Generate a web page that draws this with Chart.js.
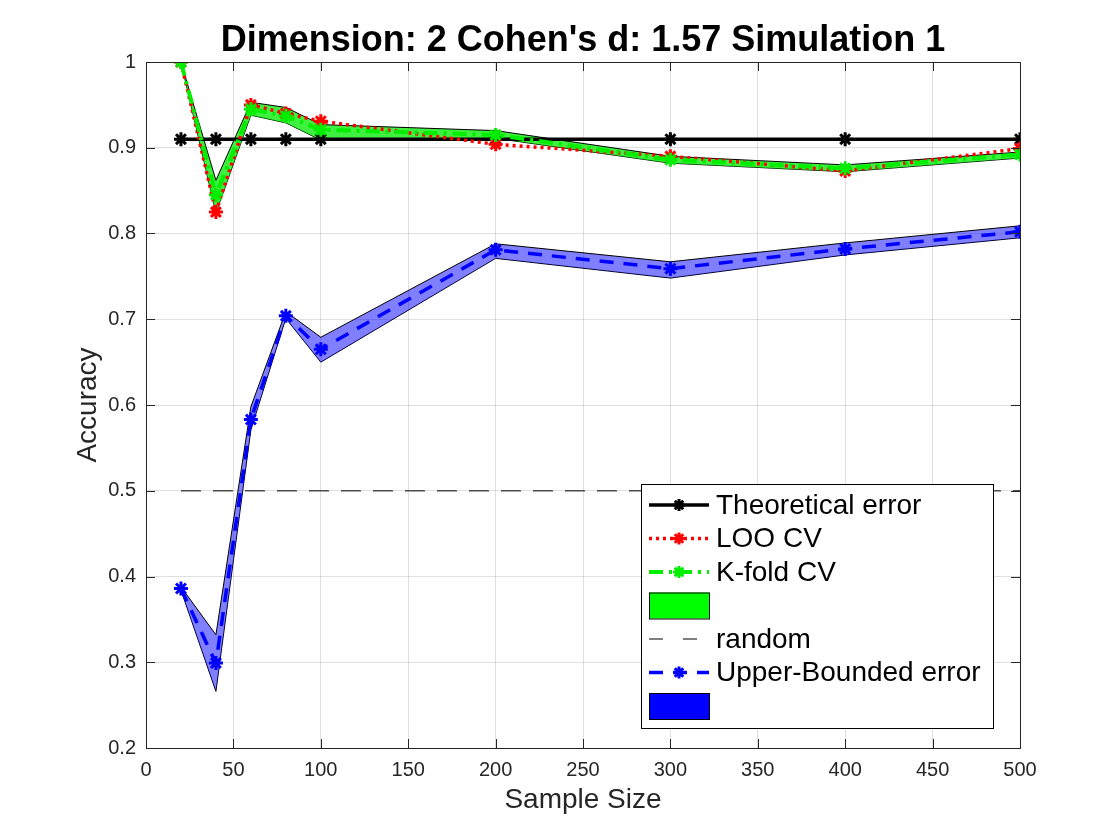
<!DOCTYPE html>
<html>
<head>
<meta charset="utf-8">
<script src="https://cdn.jsdelivr.net/npm/chart.js@4/dist/chart.umd.min.js"></script>
<style>
body{margin:0;background:#fff}
#wrap{width:1120px;height:840px}
</style>
</head>
<body>
<div id="wrap"><canvas id="myChart" width="1120" height="840"></canvas></div>
<script>

// sample sizes on the x axis
const sizes = [20, 40, 60, 80, 100, 200, 300, 400, 500]

// accuracy values
const theoretical = [0.91, 0.91, 0.91, 0.91, 0.91, 0.91, 0.91, 0.91, 0.91]
const looCV = [1.0, 0.825, 0.95, 0.94, 0.931, 0.904, 0.890, 0.873, 0.899]
const kfoldCV = [1.0, 0.845, 0.945, 0.937, 0.921, 0.915, 0.886, 0.876, 0.892]
const kfoldHigh = [1.0, 0.862, 0.953, 0.947, 0.927, 0.920, 0.890, 0.880, 0.895]
const kfoldLow = [1.0, 0.824, 0.938, 0.929, 0.909, 0.911, 0.882, 0.872, 0.888]
const upperBound = [0.386, 0.299, 0.583, 0.704, 0.665, 0.781, 0.759, 0.782, 0.802]
const upperHigh = [0.388, 0.332, 0.598, 0.709, 0.679, 0.788, 0.767, 0.789, 0.809]
const upperLow = [0.384, 0.266, 0.571, 0.701, 0.650, 0.771, 0.748, 0.775, 0.795]

// random guess line
const randomX = [20, 500]
const randomLevel = [0.5, 0.5]

const titleText = "Dimension: 2 Cohen's d: 1.57 Simulation 1"

const pts = (xs, ys) => xs.map((x, i) => ({x: x, y: ys[i]}))

const FONT = "'Liberation Sans', Arial, Helvetica, sans-serif"
const AXIS = "#262626"

function markerLine(label, values, color, dash, width){
  return {
    label: label,
    data: pts(sizes, values),
    borderColor: color,
    borderWidth: width,
    borderDash: dash,
    pointStyle: "star",
    pointRadius: 7,
    pointBorderWidth: 3,
    pointBorderColor: color,
    pointBackgroundColor: color,
    fill: false,
    tension: 0
  }
}

function bandEdge(values, fillColor, fillTo){
  return {
    label: "",
    data: pts(sizes, values),
    borderColor: "#000",
    borderWidth: 1,
    pointRadius: 0,
    backgroundColor: fillColor,
    fill: fillTo,
    tension: 0
  }
}

// dataset 0 is drawn on top
const datasets = [
  markerLine("Upper-Bounded error", upperBound, "#0000ff", [14, 10], 3.5),
  markerLine("K-fold CV", kfoldCV, "#00ee00", [14, 6, 3, 6], 4),
  markerLine("LOO CV", looCV, "#ff0000", [3, 4], 3.5),
  markerLine("Theoretical error", theoretical, "#000000", [], 3.5),
  {
    label: "random",
    data: pts(randomX, randomLevel),
    borderColor: "#4d4d4d",
    borderWidth: 1.5,
    borderDash: [20, 12],
    pointRadius: 0,
    fill: false
  },
  bandEdge(upperHigh, "rgba(0,0,255,0.5)", "+1"),
  bandEdge(upperLow, "rgba(0,0,255,0.5)", false),
  bandEdge(kfoldHigh, "rgba(0,235,0,0.75)", "+1"),
  bandEdge(kfoldLow, "rgba(0,235,0,0.75)", false)
]

// legend rows in MATLAB order
const legendRows = [
  {text: "Theoretical error", line: "#000000", dash: [], width: 3.5, marker: true},
  {text: "LOO CV", line: "#ff0000", dash: [3, 4], width: 3.5, marker: true},
  {text: "K-fold CV", line: "#00ee00", dash: [14, 6, 3, 6], width: 4, marker: true},
  {text: "", patch: "#00ff00"},
  {text: "random", line: "#000000", dash: [14, 20], width: 1.2, marker: false},
  {text: "Upper-Bounded error", line: "#0000ff", dash: [14, 10], width: 3.5, marker: true},
  {text: "", patch: "#0000ff"}
]

function drawStar(ctx, x, y, r, color){
  ctx.save()
  ctx.strokeStyle = color
  ctx.lineWidth = 3
  ctx.setLineDash([])
  ctx.beginPath()
  for (let a = 0; a < 4; a++){
    const ang = a * Math.PI / 4
    ctx.moveTo(x - Math.cos(ang) * r, y - Math.sin(ang) * r)
    ctx.lineTo(x + Math.cos(ang) * r, y + Math.sin(ang) * r)
  }
  ctx.stroke()
  ctx.restore()
}

const matlabLook = {
  id: "matlabLook",
  beforeDraw(chart){
    const ctx = chart.ctx
    ctx.save()
    ctx.fillStyle = "#fff"
    ctx.fillRect(0, 0, chart.width, chart.height)
    ctx.restore()
  },
  afterDraw(chart){
    const ctx = chart.ctx
    const a = chart.chartArea
    const xs = chart.scales.x
    const ys = chart.scales.y

    // box and inward ticks
    ctx.save()
    ctx.strokeStyle = AXIS
    ctx.lineWidth = 1
    ctx.setLineDash([])
    ctx.strokeRect(a.left + 0.5, a.top + 0.5, a.right - a.left, a.bottom - a.top)
    ctx.beginPath()
    xs.ticks.forEach(t => {
      const px = Math.round(xs.getPixelForValue(t.value)) + 0.5
      ctx.moveTo(px, a.bottom); ctx.lineTo(px, a.bottom - 9)
      ctx.moveTo(px, a.top); ctx.lineTo(px, a.top + 9)
    })
    ys.ticks.forEach(t => {
      const py = Math.round(ys.getPixelForValue(t.value)) + 0.5
      ctx.moveTo(a.left, py); ctx.lineTo(a.left + 9, py)
      ctx.moveTo(a.right, py); ctx.lineTo(a.right - 9, py)
    })
    ctx.stroke()

    // title
    ctx.fillStyle = "#000"
    ctx.font = "bold 36px " + FONT
    ctx.textAlign = "center"
    ctx.textBaseline = "middle"
    ctx.fillText(titleText, (a.left + a.right) / 2, 41)

    // legend
    const bx = 641, by = 484, bw = 352, bh = 244
    ctx.fillStyle = "#fff"
    ctx.fillRect(bx, by, bw, bh)
    ctx.strokeStyle = "#000"
    ctx.strokeRect(bx + 0.5, by + 0.5, bw, bh)
    ctx.font = "28px " + FONT
    ctx.textAlign = "left"
    legendRows.forEach((row, i) => {
      const cy = 505 + i * 33.5
      if (row.patch){
        ctx.fillStyle = row.patch
        ctx.fillRect(649, cy - 13, 60, 26)
        ctx.strokeStyle = "#000"
        ctx.lineWidth = 1
        ctx.setLineDash([])
        ctx.strokeRect(649.5, cy - 12.5, 60, 26)
      } else {
        ctx.strokeStyle = row.line
        ctx.lineWidth = row.width
        ctx.setLineDash(row.dash)
        ctx.beginPath()
        ctx.moveTo(649, cy)
        ctx.lineTo(709, cy)
        ctx.stroke()
        ctx.setLineDash([])
        if (row.marker) drawStar(ctx, 679, cy, 6, row.line)
      }
      ctx.fillStyle = "#000"
      ctx.fillText(row.text, 716, cy + 1)
    })
    ctx.restore()
  }
}

new Chart(
  document.getElementById("myChart"),
  {
    type: "line",
    data: {datasets: datasets},
    options: {
      responsive: false,
      animation: false,
      layout: {padding: {top: 62, right: 100, left: 0, bottom: 0}},
      plugins: {
        legend: {display: false},
        title: {display: false},
        tooltip: {enabled: false}
      },
      scales: {
        x: {
          type: "linear",
          min: 0,
          max: 500,
          afterFit: s => { s.height = 92 },
          ticks: {stepSize: 50, color: AXIS, padding: 10, font: {family: FONT, size: 20}, maxRotation: 0},
          grid: {color: "rgba(38,38,38,0.15)", drawTicks: false},
          border: {color: AXIS},
          title: {display: true, text: "Sample Size", color: AXIS, font: {family: FONT, size: 28}, padding: {top: 0, bottom: 23}}
        },
        y: {
          min: 0.2,
          max: 1,
          afterFit: s => { s.width = 146 },
          ticks: {
            stepSize: 0.1,
            color: AXIS,
            padding: 10,
            font: {family: FONT, size: 20},
            callback: v => String(+v.toFixed(1))
          },
          grid: {color: "rgba(38,38,38,0.15)", drawTicks: false},
          border: {color: AXIS},
          title: {display: true, text: "Accuracy", color: AXIS, font: {family: FONT, size: 28}, padding: {top: 71, bottom: 0}}
        }
      }
    },
    plugins: [matlabLook]
  }
)

</script>
</body>
</html>
